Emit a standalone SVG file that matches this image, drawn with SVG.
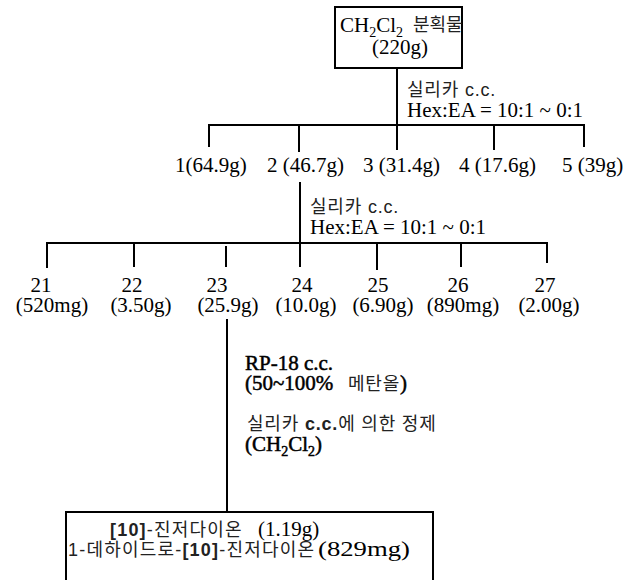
<svg xmlns="http://www.w3.org/2000/svg" width="627" height="580" viewBox="0 0 627 580">
<style>
.s{font-family:"Liberation Serif","Times New Roman",serif;font-size:21px;fill:#000}
.k{font-family:"Liberation Sans","Noto Sans CJK KR",sans-serif;font-size:18px;fill:#222;letter-spacing:0.8px}
.b{font-weight:bold}
.sb{stroke:#000;stroke-width:0.5}
.ln{stroke:#000;stroke-width:2;fill:none}
.m{text-anchor:middle}
</style>
<rect width="627" height="580" fill="#fff"/>
<g id="connectors">
<path class="ln" d="M397,68 V150"/>
<path class="ln" d="M209,147 V125 H584 V147 M299,126 V152 M494,126 V150"/>
<path class="ln" d="M300,182 V267"/>
<path class="ln" d="M47,268 V243 H547 V263 M134,242 V267 M226,246 V267 M377,243 V270 M461,243 V267"/>
<path class="ln" d="M227,319 V512"/>
</g>
<g id="n_root">
<rect class="ln" x="335" y="7" width="127" height="61"/>
<text class="s" x="340" y="32">CH<tspan dy="5" font-size="14">2</tspan><tspan dy="-5">Cl</tspan><tspan dy="5" font-size="14">2</tspan></text>
<text class="k" x="413" y="31" font-size="15" style="letter-spacing:0">분획물</text>
<text class="s" x="372" y="54">(220g)</text>
</g>
<g id="step1">
<text class="k" x="407" y="96">실리카 c.c.</text>
<text class="s" x="407" y="117">Hex:EA = 10:1 ~ 0:1</text>
</g>
<g id="f1"><text class="s" x="175" y="172">1(64.9g)</text></g>
<g id="f2"><text class="s" x="267" y="172">2 (46.7g)</text></g>
<g id="f3"><text class="s" x="363" y="172">3 (31.4g)</text></g>
<g id="f4"><text class="s" x="459" y="172">4 (17.6g)</text></g>
<g id="f5"><text class="s" x="562" y="172">5 (39g)</text></g>
<g id="step2">
<text class="k" x="310" y="213">실리카 c.c.</text>
<text class="s" x="310" y="234">Hex:EA = 10:1 ~ 0:1</text>
</g>
<g id="f21"><text class="s m" x="41" y="292">21</text><text class="s m" x="52" y="312">(520mg)</text></g>
<g id="f22"><text class="s m" x="132" y="292">22</text><text class="s m" x="141" y="312">(3.50g)</text></g>
<g id="f23"><text class="s m" x="217" y="292">23</text><text class="s m" x="228" y="312">(25.9g)</text></g>
<g id="f24"><text class="s m" x="302" y="292">24</text><text class="s m" x="306" y="312">(10.0g)</text></g>
<g id="f25"><text class="s m" x="378" y="292">25</text><text class="s m" x="383" y="312">(6.90g)</text></g>
<g id="f26"><text class="s m" x="458" y="292">26</text><text class="s m" x="463" y="312">(890mg)</text></g>
<g id="f27"><text class="s m" x="545" y="292">27</text><text class="s m" x="549" y="312">(2.00g)</text></g>
<g id="step3">
<text class="s sb" x="245" y="370">RP-18 c.c.</text>
<text class="s sb" x="245" y="390">(50~100%</text>
<text class="k" x="348" y="390" font-size="17">메탄올</text>
<text class="s sb" x="400" y="390">)</text>
<text class="k" x="247" y="430">실리카 <tspan class="b">c.c.</tspan>에 의한 정제</text>
<text class="s sb" x="245" y="451">(CH<tspan dy="5" font-size="14">2</tspan><tspan dy="-5">Cl</tspan><tspan dy="5" font-size="14">2</tspan><tspan dy="-5">)</tspan></text>
</g>
<g id="n_result">
<path class="ln" d="M66,585 V512 H433 V585"/>
<text class="k" x="110" y="536" font-size="19" style="letter-spacing:1.2px"><tspan class="b">[10]</tspan>-진저다이온</text>
<text class="s" x="258" y="536">(1.19g)</text>
<text class="k" x="68" y="556" font-size="19" style="letter-spacing:1.2px">1-데하이드로-<tspan class="b">[10]</tspan>-진저다이온</text>
<text class="s" x="318" y="556" textLength="92" lengthAdjust="spacingAndGlyphs">(829mg)</text>
</g>
</svg>
